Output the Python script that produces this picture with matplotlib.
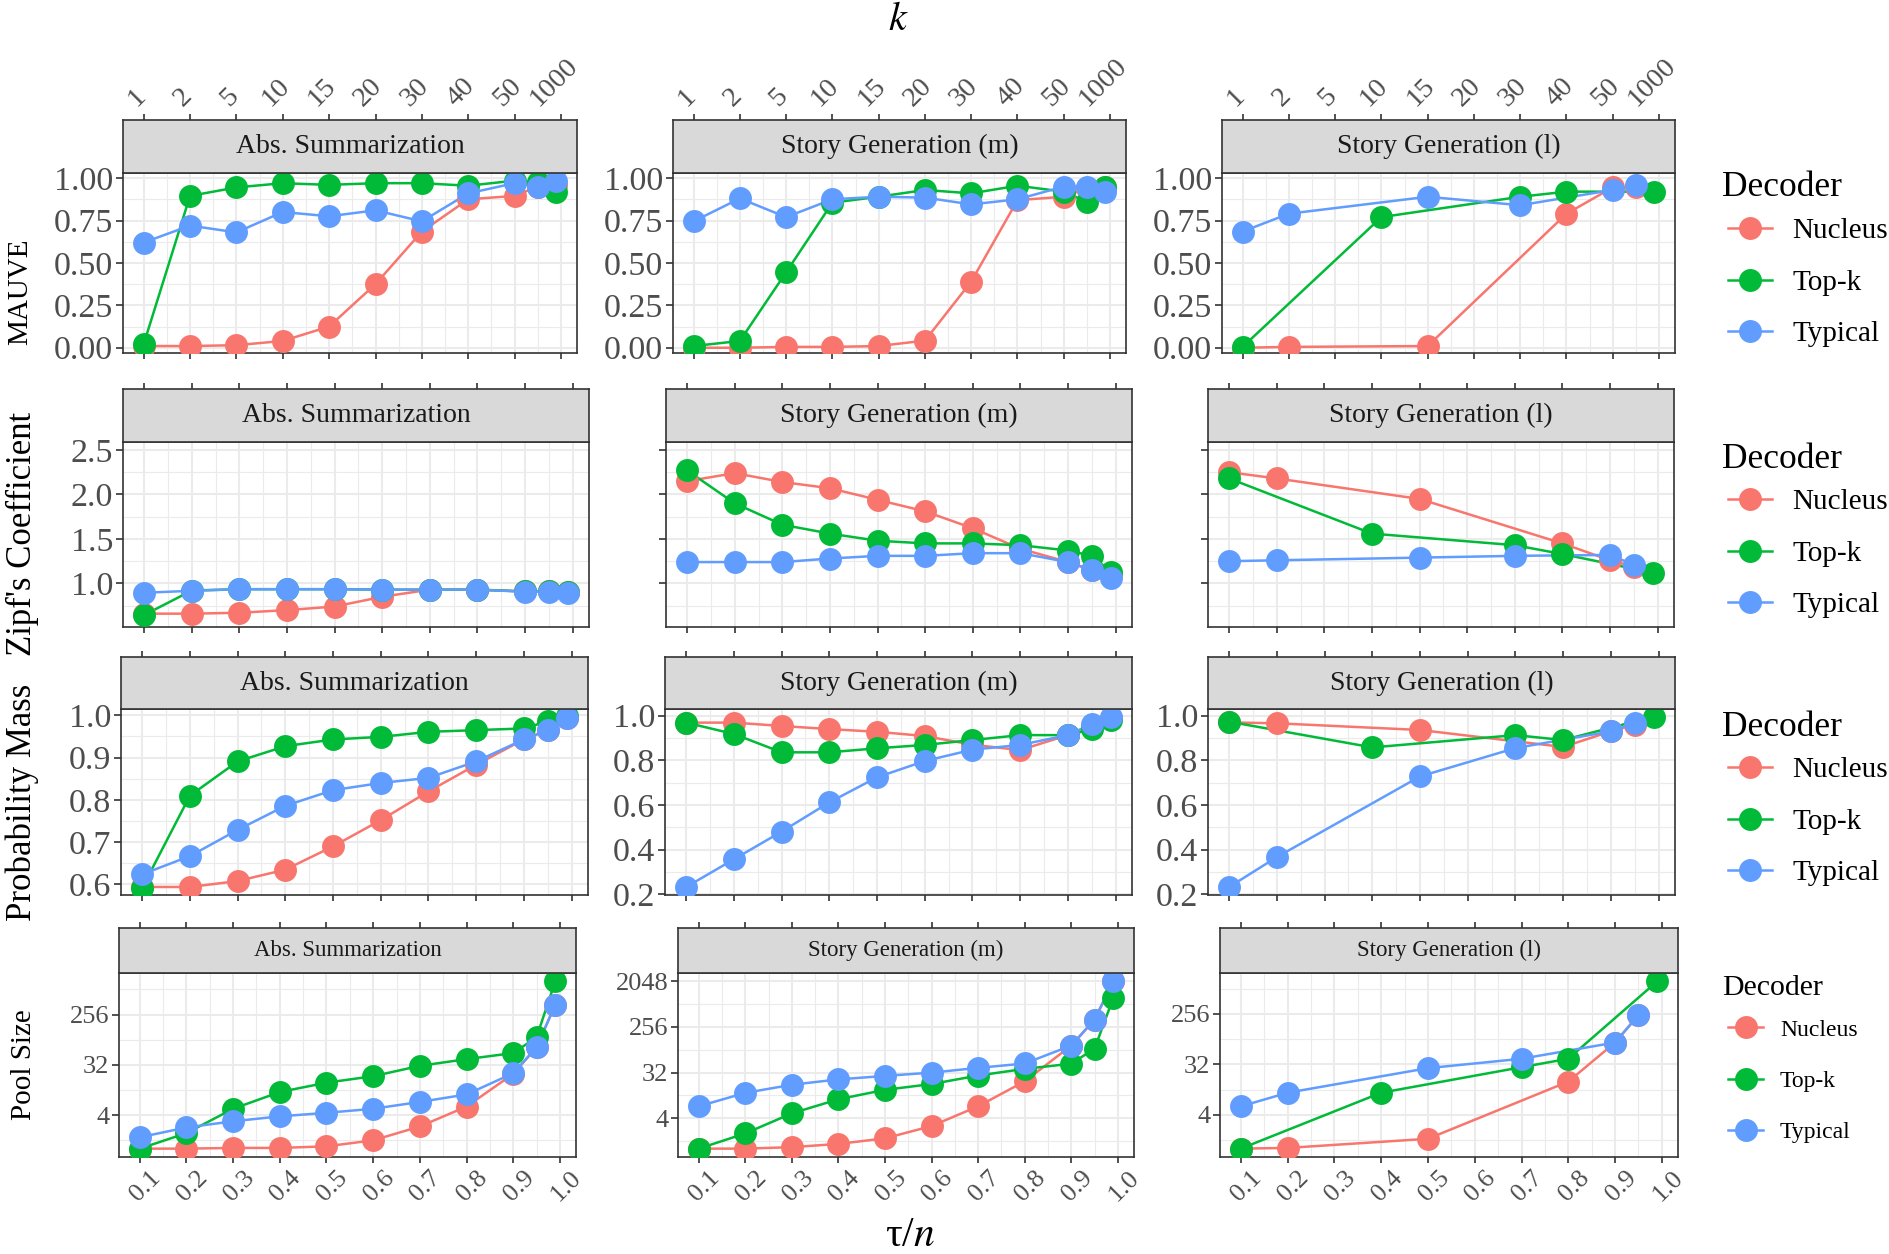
import matplotlib
matplotlib.use("Agg")
import matplotlib.pyplot as plt
from matplotlib.lines import Line2D
import matplotlib.transforms as mtransforms
import numpy as np

W, H, DPI = 1890, 1254, 100
plt.rcParams['font.family'] = ['Liberation Serif', 'DejaVu Serif']
plt.rcParams['mathtext.fontset'] = 'stix'

# ---------------- data ----------------
DECODERS = ['Nucleus', 'Top-k', 'Typical']
COLORS = ['#F8766D', '#00BA38', '#619CFF']
DATASETS = ['Abs. Summarization', 'Story Generation (m)', 'Story Generation (l)']
METRICS = ['MAUVE', "Zipf's Coefficient", 'Probability Mass', 'Pool Size']

TAU_TICKS = [0.1, 0.2, 0.3, 0.4, 0.5, 0.6, 0.7, 0.8, 0.9, 1.0]
TAU_LABELS = ['0.1', '0.2', '0.3', '0.4', '0.5', '0.6', '0.7', '0.8', '0.9', '1.0']
K_LABELS = ['1', '2', '5', '10', '15', '20', '30', '40', '50', '1000']

X_FULL = [0.1, 0.2, 0.3, 0.4, 0.5, 0.6, 0.7, 0.8, 0.9, 0.95, 0.99]
X_L_NUCLEUS = [0.1, 0.2, 0.5, 0.8, 0.9, 0.95]
X_L_TOPK = [0.1, 0.4, 0.7, 0.8, 0.99]
X_L_TYPICAL = [0.1, 0.2, 0.5, 0.7, 0.9, 0.95]

# MAUVE
mauve_abs_nucleus = [0.01, 0.01, 0.015, 0.04, 0.125, 0.375, 0.685, 0.875, 0.895, 0.95, 0.96]
mauve_abs_topk = [0.02, 0.895, 0.945, 0.97, 0.96, 0.97, 0.97, 0.955, 0.985, 0.975, 0.92]
mauve_abs_typical = [0.62, 0.72, 0.68, 0.80, 0.775, 0.81, 0.745, 0.91, 0.97, 0.95, 0.985]
mauve_sm_nucleus = [0.0, 0.0, 0.005, 0.005, 0.01, 0.042, 0.39, 0.87, 0.89, 0.94, 0.95]
mauve_sm_topk = [0.01, 0.04, 0.445, 0.855, 0.89, 0.93, 0.91, 0.955, 0.92, 0.86, 0.95]
mauve_sm_typical = [0.745, 0.88, 0.77, 0.875, 0.89, 0.885, 0.845, 0.875, 0.95, 0.95, 0.92]
mauve_sl_nucleus = [0.0, 0.005, 0.01, 0.79, 0.945, 0.945]
mauve_sl_topk = [0.005, 0.77, 0.89, 0.92, 0.92]
mauve_sl_typical = [0.685, 0.79, 0.89, 0.84, 0.93, 0.96]

# Zipf's coefficient
zipf_abs_nucleus = [0.66, 0.66, 0.67, 0.70, 0.74, 0.85, 0.93, 0.93, 0.91, 0.91, 0.90]
zipf_abs_topk = [0.645, 0.92, 0.935, 0.935, 0.935, 0.93, 0.93, 0.93, 0.91, 0.91, 0.90]
zipf_abs_typical = [0.895, 0.917, 0.935, 0.935, 0.935, 0.93, 0.93, 0.93, 0.906, 0.906, 0.895]
zipf_sm_nucleus = [2.15, 2.24, 2.14, 2.07, 1.94, 1.81, 1.62, 1.39, 1.24, 1.15, 1.11]
zipf_sm_topk = [2.27, 1.90, 1.66, 1.56, 1.48, 1.45, 1.45, 1.43, 1.37, 1.31, 1.13]
zipf_sm_typical = [1.24, 1.24, 1.24, 1.28, 1.31, 1.31, 1.34, 1.34, 1.24, 1.15, 1.06]
zipf_sl_nucleus = [2.25, 2.18, 1.95, 1.45, 1.26, 1.19]
zipf_sl_topk = [2.18, 1.56, 1.43, 1.33, 1.12]
zipf_sl_typical = [1.25, 1.26, 1.29, 1.31, 1.32, 1.21]

# Probability mass
prob_abs_nucleus = [0.594, 0.594, 0.608, 0.635, 0.69, 0.752, 0.82, 0.883, 0.943, 0.965, 0.994]
prob_abs_topk = [0.592, 0.81, 0.891, 0.927, 0.943, 0.949, 0.961, 0.965, 0.969, 0.986, 0.998]
prob_abs_typical = [0.624, 0.667, 0.729, 0.786, 0.823, 0.840, 0.852, 0.891, 0.943, 0.965, 0.994]
prob_sm_nucleus = [0.969, 0.969, 0.954, 0.94, 0.928, 0.909, 0.87, 0.846, 0.913, 0.95, 0.988]
prob_sm_topk = [0.969, 0.918, 0.836, 0.836, 0.854, 0.869, 0.891, 0.913, 0.913, 0.939, 0.981]
prob_sm_typical = [0.233, 0.357, 0.481, 0.612, 0.724, 0.797, 0.848, 0.869, 0.913, 0.963, 0.993]
prob_sl_nucleus = [0.97, 0.966, 0.936, 0.86, 0.93, 0.96]
prob_sl_topk = [0.973, 0.858, 0.913, 0.891, 0.996]
prob_sl_typical = [0.233, 0.367, 0.728, 0.855, 0.93, 0.966]

# Pool size
pool_abs_nucleus = [1.0, 1.0, 1.03, 1.03, 1.1, 1.41, 2.5, 5.7, 22, 66, 383]
pool_abs_topk = [1.0, 1.9, 5.2, 10.4, 15.3, 20, 30.7, 40.5, 52, 100, 1010]
pool_abs_typical = [1.6, 2.4, 3.1, 3.8, 4.4, 5.2, 6.9, 9.4, 22.6, 66, 383]
pool_sm_nucleus = [1.0, 1.0, 1.07, 1.24, 1.6, 2.8, 6.9, 21.5, 110, 360, 2048]
pool_sm_topk = [1.0, 2.0, 5.0, 9.5, 14.6, 19, 28, 38, 48, 96, 963]
pool_sm_typical = [6.9, 12.7, 18.4, 23.5, 27.5, 32, 39.7, 48.5, 110, 360, 2048]
pool_sl_nucleus = [1.0, 1.03, 1.5, 15.8, 79, 245]
pool_sl_topk = [1.0, 10, 28.6, 40.5, 980]
pool_sl_typical = [5.7, 10, 27.5, 40.5, 79, 245]

XS = [[X_FULL, X_FULL, X_FULL], [X_FULL, X_FULL, X_FULL],
      [X_L_NUCLEUS, X_L_TOPK, X_L_TYPICAL]]
YS = [
    [[mauve_abs_nucleus, mauve_abs_topk, mauve_abs_typical],
     [mauve_sm_nucleus, mauve_sm_topk, mauve_sm_typical],
     [mauve_sl_nucleus, mauve_sl_topk, mauve_sl_typical]],
    [[zipf_abs_nucleus, zipf_abs_topk, zipf_abs_typical],
     [zipf_sm_nucleus, zipf_sm_topk, zipf_sm_typical],
     [zipf_sl_nucleus, zipf_sl_topk, zipf_sl_typical]],
    [[prob_abs_nucleus, prob_abs_topk, prob_abs_typical],
     [prob_sm_nucleus, prob_sm_topk, prob_sm_typical],
     [prob_sl_nucleus, prob_sl_topk, prob_sl_typical]],
    [[pool_abs_nucleus, pool_abs_topk, pool_abs_typical],
     [pool_sm_nucleus, pool_sm_topk, pool_sm_typical],
     [pool_sl_nucleus, pool_sl_topk, pool_sl_typical]],
]

# ---------------- layout (pixels) ----------------
ROWS = [
    dict(strip=(120, 173), panel=(173, 353), xs=[(123, 577), (673, 1126), (1222, 1675)]),
    dict(strip=(389, 442), panel=(442, 627), xs=[(123, 589), (666, 1132), (1208, 1674)]),
    dict(strip=(657, 709), panel=(709, 895), xs=[(121, 588), (665, 1132), (1208, 1675)]),
    dict(strip=(928, 973), panel=(973, 1157), xs=[(119, 576), (678, 1134), (1220, 1678)]),
]
YLAB_POS = [(20, 292), (22, 534), (22, 802), (24, 1065)]
YLAB_SIZE = [21, 25, 25, 21]
STRIP_SIZE = [20, 20, 20, 16.5]
YTICK_SIZE = [24.5, 24.5, 24.5, 19]
LEG_TITLE_Y = [187, 459, 727, 988]
LEG_TOP = [218, 489, 757, 1019]
LEG_LABEL_SIZE = [21, 21, 21, 17]
LEG_TITLE_SIZE = [25.5, 25.5, 25.5, 21.5]
LEG_SPACING = [0.86, 0.86, 0.86, 1.26]
LEG_X = 1728

GRID = '#EBEBEB'
DARK = '#333333'
TXT = '#4D4D4D'
XLIM = (0.0555, 1.0345)
X_MINOR = [0.15, 0.25, 0.35, 0.45, 0.55, 0.65, 0.75, 0.85, 0.95]
LW = 1.8
MS = 16.5

fig = plt.figure(figsize=(W / DPI, H / DPI), dpi=DPI)


def px_axes(x0, x1, y0, y1):
    return fig.add_axes([x0 / W, 1 - y1 / H, (x1 - x0) / W, (y1 - y0) / H])


def shift(labels, dx):
    off = mtransforms.ScaledTranslation(dx / DPI, 0, fig.dpi_scale_trans)
    for lab in labels:
        lab.set_transform(lab.get_transform() + off)


for r, lay in enumerate(ROWS):
    for c in range(3):
        x0, x1 = lay['xs'][c]
        ax = px_axes(x0, x1, lay['panel'][0], lay['panel'][1])
        sax = px_axes(x0, x1, lay['strip'][0], lay['strip'][1])

        # data
        for d in range(3):
            ax.plot(XS[c][d], YS[r][c][d], color=COLORS[d], lw=LW, zorder=3)
        for d in range(3):
            ax.plot(XS[c][d], YS[r][c][d], 'o', color=COLORS[d], ms=MS,
                    mec='none', zorder=4)

        ax.set_xlim(*XLIM)
        ax.set_xticks(TAU_TICKS)
        ax.set_xticks(X_MINOR, minor=True)

        # y scale
        if r == 0:
            ax.set_ylim(-0.031, 1.03)
            ax.set_yticks([0, 0.25, 0.5, 0.75, 1.0])
            ax.set_yticklabels(['0.00', '0.25', '0.50', '0.75', '1.00'])
            ax.set_yticks([0.125, 0.375, 0.625, 0.875], minor=True)
            show_ylab = True
        elif r == 1:
            ax.set_ylim(0.51, 2.59)
            ax.set_yticks([1.0, 1.5, 2.0, 2.5])
            ax.set_yticklabels(['1.0', '1.5', '2.0', '2.5'])
            ax.set_yticks([0.75, 1.25, 1.75, 2.25], minor=True)
            show_ylab = (c == 0)
        elif r == 2:
            if c == 0:
                ax.set_ylim(0.575, 1.015)
                ax.set_yticks([0.6, 0.7, 0.8, 0.9, 1.0])
                ax.set_yticklabels(['0.6', '0.7', '0.8', '0.9', '1.0'])
                ax.set_yticks([0.65, 0.75, 0.85, 0.95], minor=True)
            else:
                ax.set_ylim(0.197, 1.03)
                ax.set_yticks([0.2, 0.4, 0.6, 0.8, 1.0])
                ax.set_yticklabels(['0.2', '0.4', '0.6', '0.8', '1.0'])
                ax.set_yticks([0.3, 0.5, 0.7, 0.9], minor=True)
            show_ylab = True
        else:
            ax.set_yscale('log', base=2)
            allv = np.log2(np.concatenate([np.asarray(v, float) for v in YS[r][c]]))
            lo, hi = allv.min(), allv.max()
            e = 0.05 * (hi - lo)
            ax.set_yticks([4, 32, 256, 2048])
            ax.set_yticklabels(['4', '32', '256', '2048'])
            ax.set_yticks([2 ** 0.5, 2 ** 3.5, 2 ** 6.5, 2 ** 9.5], minor=True)
            ax.yaxis.set_minor_formatter(matplotlib.ticker.NullFormatter())
            ax.set_ylim(2 ** (lo - e), 2 ** (hi + e))
            show_ylab = True

        ax.grid(which='major', color=GRID, lw=1.5)
        ax.grid(which='minor', color=GRID, lw=0.8)
        ax.set_axisbelow(True)
        for s in ax.spines.values():
            s.set_color(DARK)
            s.set_linewidth(1.2)
        ax.tick_params(which='minor', length=0)
        ax.tick_params(axis='y', which='major', length=5, width=1.2, color=DARK,
                       labelsize=YTICK_SIZE[r], labelcolor=TXT, pad=2,
                       labelleft=show_ylab)
        ax.tick_params(axis='x', which='major', length=4, width=1.2, color=DARK,
                       labelsize=19, labelcolor=TXT, pad=3,
                       labelbottom=(r == 3))
        if r == 3:
            ax.set_xticklabels(TAU_LABELS)
            for lab in ax.get_xticklabels():
                lab.set_rotation(45)
                lab.set_ha('center')
                lab.set_va('top')
            shift(ax.get_xticklabels(), 6)

        # strip
        sax.set_facecolor('#D9D9D9')
        for s in sax.spines.values():
            s.set_color(DARK)
            s.set_linewidth(1.2)
        sax.set_xlim(*XLIM)
        sax.set_ylim(0, 1)
        sax.set_yticks([])
        sax.set_xticks(TAU_TICKS)
        sax.tick_params(axis='x', which='major', top=True, bottom=False,
                        labeltop=(r == 0), labelbottom=False, length=4, width=1.2,
                        color=DARK, labelsize=20.5, labelcolor=TXT, pad=2)
        if r == 0:
            sax.set_xticklabels(K_LABELS)
            for lab in sax.get_xticklabels():
                lab.set_rotation(45)
                lab.set_ha('center')
                lab.set_va('bottom')
            shift(sax.get_xticklabels(), -7)
        sax.text(0.5, 0.5, DATASETS[c], transform=sax.transAxes, ha='center',
                 va='center', fontsize=STRIP_SIZE[r], color='#1A1A1A')

    # y axis title
    fig.text(YLAB_POS[r][0] / W, 1 - YLAB_POS[r][1] / H, METRICS[r], rotation=90,
             ha='center', va='center', fontsize=YLAB_SIZE[r], color='black')

    # legend
    fig.text(1722 / W, 1 - LEG_TITLE_Y[r] / H, 'Decoder', ha='left', va='center',
             fontsize=LEG_TITLE_SIZE[r], color='black')
    handles = [Line2D([], [], color=COLORS[d], lw=LW, marker='o', ms=MS, mec='none')
               for d in range(3)]
    fig.legend(handles, DECODERS, loc='upper left',
               bbox_to_anchor=(LEG_X / W, 1 - LEG_TOP[r] / H), frameon=False,
               borderpad=0, borderaxespad=0, fontsize=LEG_LABEL_SIZE[r],
               handlelength=1.5, handletextpad=0.7, labelspacing=LEG_SPACING[r])

fig.text(898 / W, 1 - 20 / H, '$k$', ha='center', va='center', fontsize=29)
fig.text(910 / W, 1 - 1236 / H, 'τ/$n$', ha='center', va='center', fontsize=30)

fig.savefig('out.png', dpi=DPI)
